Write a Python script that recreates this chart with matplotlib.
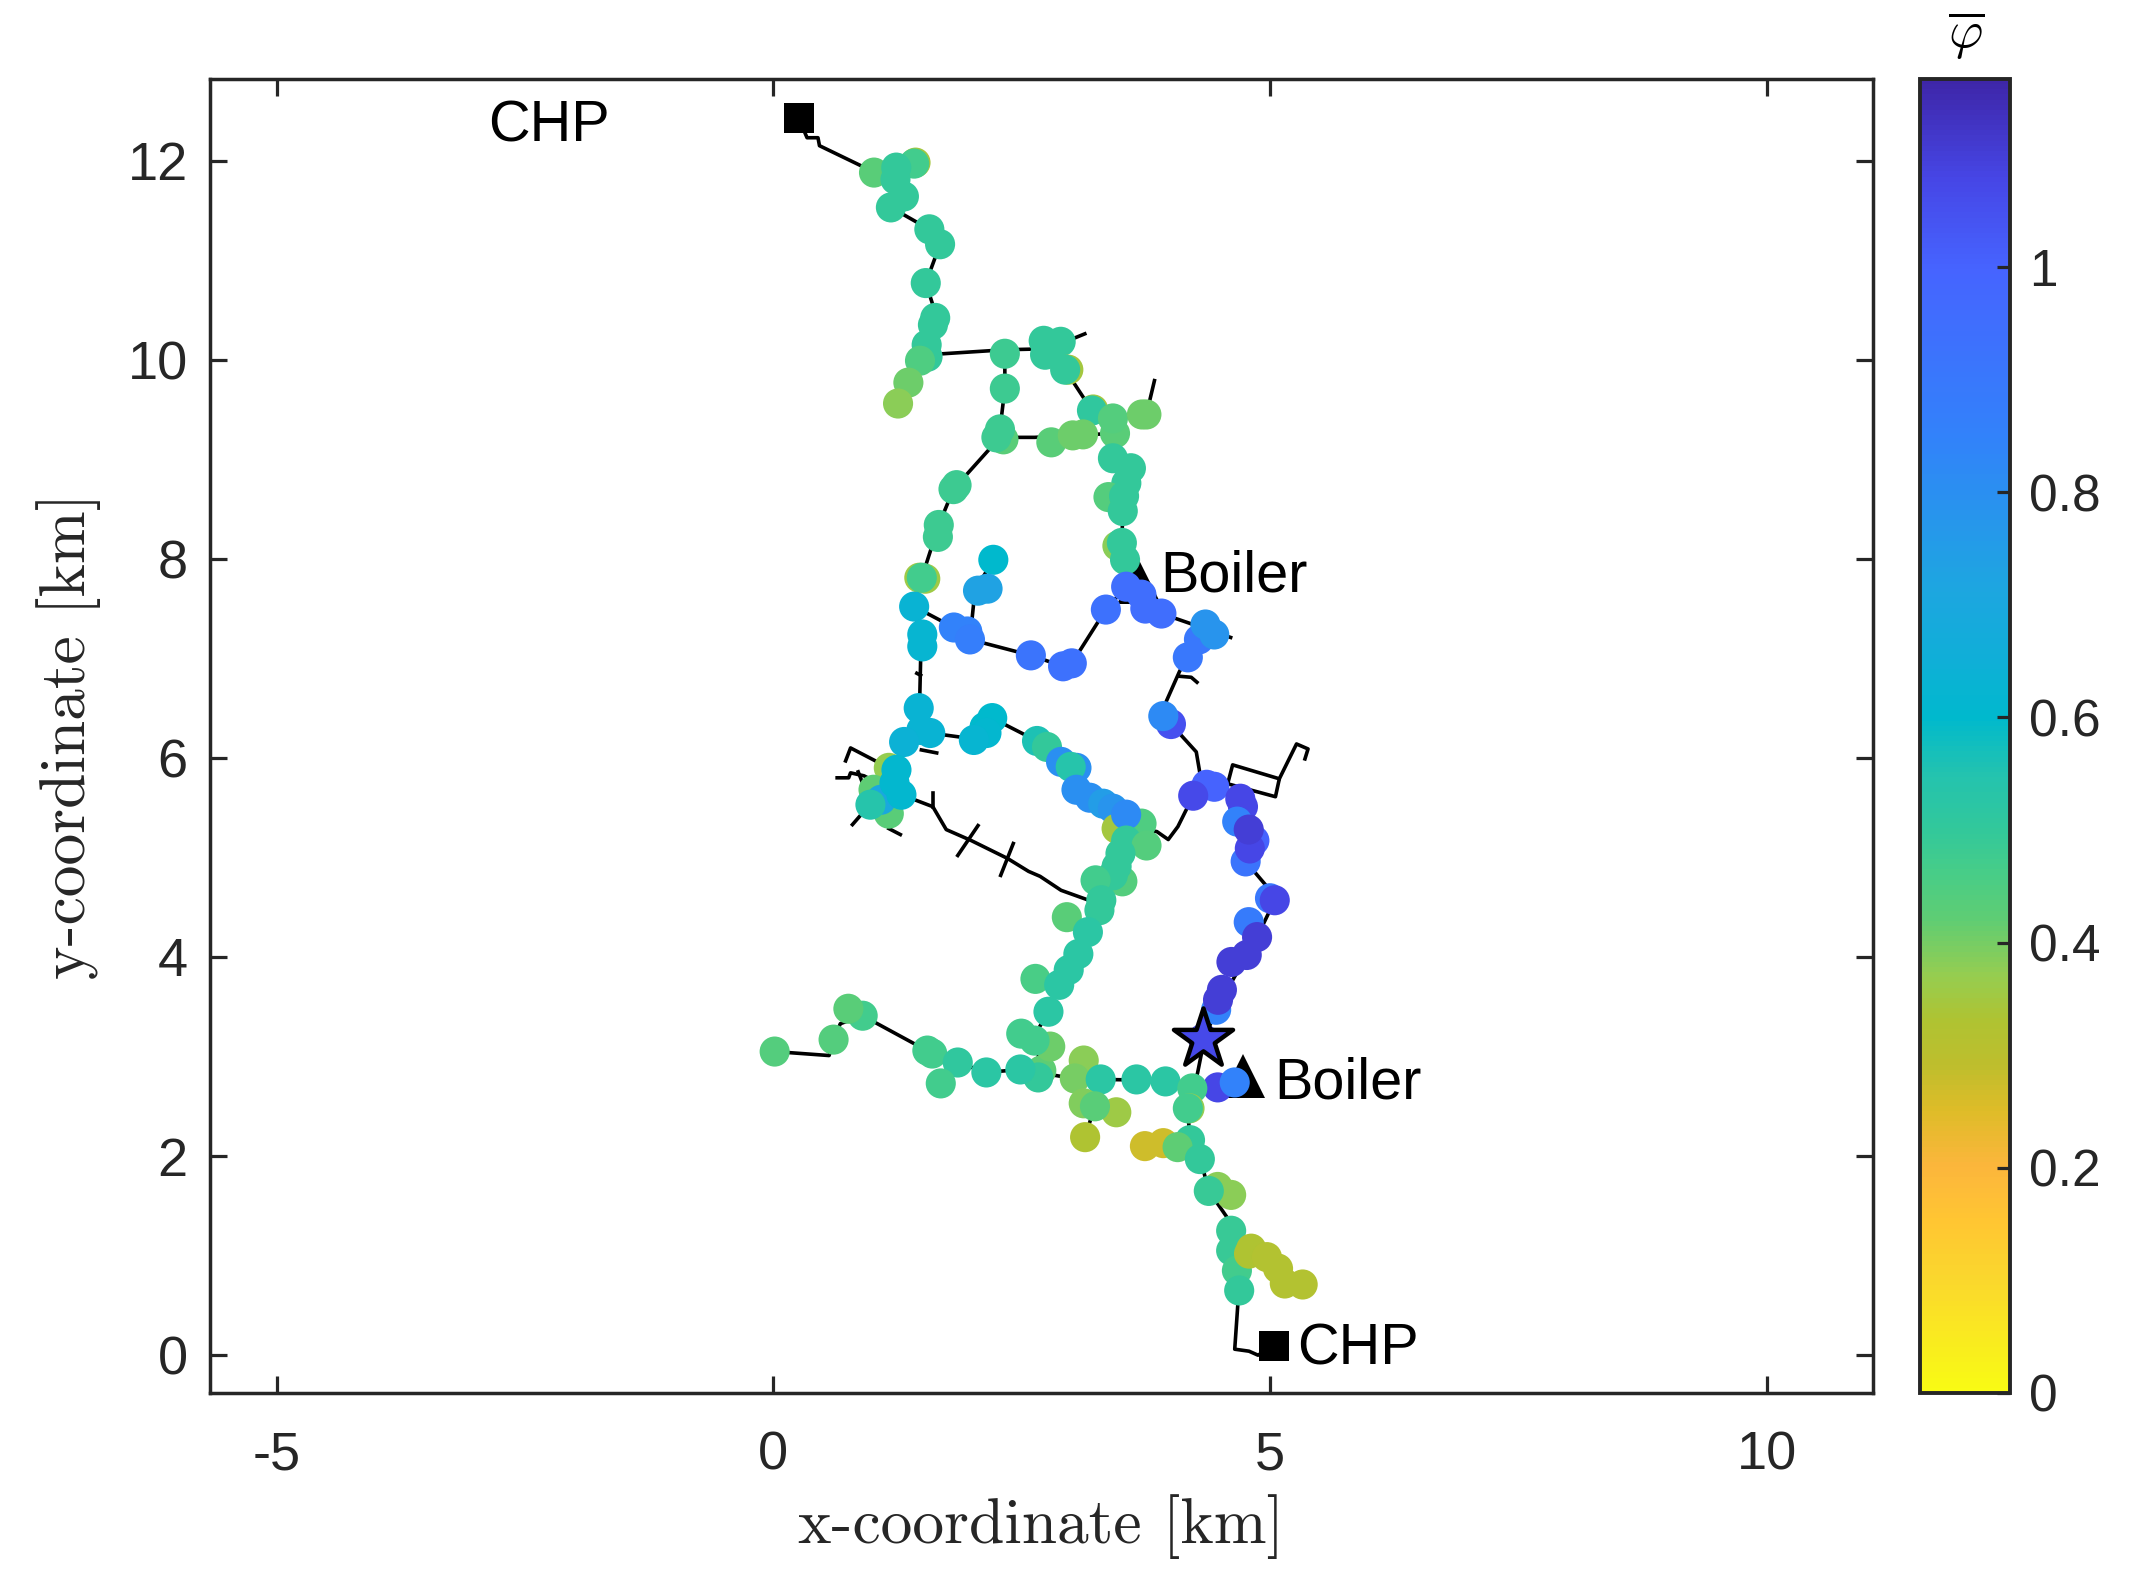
import matplotlib
matplotlib.use("Agg")
import matplotlib.pyplot as plt
from matplotlib.colors import LinearSegmentedColormap

plt.rcParams["font.family"] = ["Liberation Sans", "DejaVu Sans"]
plt.rcParams["mathtext.fontset"] = "cm"

# node positions [km] and mean phi, in draw order
node_x = [1.014, 1.432, 1.418, 1.238, 1.23, 1.315, 1.184, 1.571, 1.679, 1.535, 1.63, 1.607, 1.544, 1.553, 1.477,
          1.36, 1.256, 2.331, 2.331, 2.317, 2.282, 2.246, 2.722, 2.893, 2.736, 2.97, 2.938, 3.22, 3.208, 3.44,
          3.419, 3.756, 3.711, 2.799, 3.015, 3.118, 3.419, 3.60, 3.554, 3.374, 3.531, 3.518, 1.814, 1.845, 1.666,
          1.657, 1.53, 1.47, 1.495, 3.464, 3.509, 3.541,
          2.215, 2.157, 2.061, 1.418, 1.50, 1.50, 1.818, 1.953, 1.98, 2.593, 2.917, 3.005, 3.348, 3.552, 3.706,
          3.745, 3.907, 4.285, 4.173, 4.35, 4.439, 4.003, 3.926, 1.464, 1.58, 1.491, 1.317, 2.204, 2.127, 2.146,
          2.019, 2.655, 2.755, 2.897, 3.052, 2.994, 3.052, 3.186, 3.321, 3.418, 3.456, 3.707, 3.552, 3.552, 3.757,
          3.514, 3.495, 3.456, 3.418, 3.244, 3.302, 3.283, 2.955, 3.167, 3.071, 2.974, 2.639, 2.878, 2.77,
          1.163, 1.009, 1.163, 1.086, 0.978, 1.24, 1.22, 1.29,
          4.362, 4.439, 4.227, 4.701, 4.728, 4.67, 4.843, 4.755, 4.797, 4.786, 5.0, 5.048, 4.786, 4.87, 4.766,
          4.612, 4.458, 4.516, 4.477,
          0.014, 0.607, 0.9, 0.756, 1.551, 1.60, 1.857, 1.686, 2.145, 2.698, 2.788, 2.667, 2.496, 2.63, 2.487,
          3.125, 3.035, 3.296, 3.125, 3.453, 3.238, 3.139, 3.656, 3.948, 4.474, 4.645, 4.218, 4.19, 4.173,
          3.741, 3.926, 4.195, 4.07, 4.294, 4.474, 4.609, 4.384,
          4.609, 4.609, 4.667, 4.69, 4.811, 4.789, 4.969, 5.081, 5.149, 5.329, 4.326]
node_y = [11.88, 11.98, 11.97, 11.93, 11.81, 11.64, 11.53, 11.31, 11.16, 10.77, 10.42, 10.35, 10.15, 10.03, 9.99,
          9.77, 9.56, 9.71, 10.06, 9.20, 9.30, 9.22, 10.19, 10.18, 10.05, 9.90, 9.90, 9.50, 9.49, 9.26,
          9.41, 9.45, 9.45, 9.17, 9.24, 9.25, 9.01, 8.91, 8.76, 8.62, 8.63, 8.48, 8.70, 8.74, 8.34,
          8.22, 7.80, 7.81, 7.81, 8.13, 8.16, 7.99,
          7.99, 7.70, 7.68, 7.52, 7.24, 7.12, 7.31, 7.27, 7.19, 7.03, 6.92, 6.95, 7.49, 7.72, 7.64,
          7.50, 7.45, 7.19, 7.01, 7.34, 7.24, 6.34, 6.42, 6.50, 6.25, 6.28, 6.16, 6.40, 6.31, 6.25,
          6.18, 6.17, 6.11, 5.96, 5.90, 5.91, 5.68, 5.60, 5.54, 5.49, 5.29, 5.34, 5.43, 5.17, 5.12,
          4.76, 5.04, 4.91, 4.82, 4.77, 4.57, 4.47, 4.40, 4.25, 4.03, 3.87, 3.78, 3.72, 3.45,
          5.90, 5.68, 5.44, 5.58, 5.53, 5.88, 5.75, 5.63,
          5.73, 5.71, 5.62, 5.59, 5.51, 5.36, 5.17, 4.96, 5.09, 5.28, 4.59, 4.57, 4.35, 4.20, 4.02,
          3.95, 3.47, 3.67, 3.57,
          3.05, 3.17, 3.41, 3.48, 3.06, 3.03, 2.94, 2.73, 2.84, 2.86, 3.10, 2.79, 3.23, 3.16, 2.87,
          2.96, 2.78, 2.77, 2.53, 2.44, 2.50, 2.19, 2.77, 2.75, 2.69, 2.74, 2.68, 2.48, 2.48,
          2.10, 2.13, 2.16, 2.09, 1.97, 1.69, 1.61, 1.65,
          1.25, 1.05, 0.85, 0.65, 1.07, 1.02, 0.985, 0.87, 0.72, 0.71, 3.18]
node_phi = [0.43, 0.35, 0.47, 0.5, 0.5, 0.5, 0.5, 0.5, 0.5, 0.5, 0.5, 0.5, 0.5, 0.5, 0.45,
            0.41, 0.38, 0.48, 0.48, 0.43, 0.48, 0.48, 0.5, 0.5, 0.5, 0.35, 0.5, 0.35, 0.51, 0.43,
            0.44, 0.41, 0.41, 0.43, 0.41, 0.41, 0.5, 0.5, 0.5, 0.44, 0.5, 0.5, 0.48, 0.48, 0.48,
            0.48, 0.36, 0.36, 0.47, 0.38, 0.5, 0.5,
            0.6, 0.73, 0.73, 0.63, 0.62, 0.62, 0.85, 0.85, 0.87, 0.92, 0.93, 0.93, 0.93, 0.95, 0.95,
            0.95, 0.95, 0.9, 0.9, 0.78, 0.78, 1.05, 0.82, 0.63, 0.63, 0.63, 0.64, 0.6, 0.6, 0.61,
            0.62, 0.56, 0.5, 0.8, 0.8, 0.54, 0.8, 0.8, 0.75, 0.78, 0.35, 0.45, 0.82, 0.5, 0.44,
            0.44, 0.5, 0.5, 0.5, 0.47, 0.5, 0.5, 0.43, 0.52, 0.52, 0.52, 0.46, 0.52, 0.52,
            0.37, 0.42, 0.43, 0.7, 0.54, 0.61, 0.61, 0.61,
            1.0, 1.0, 1.07, 1.08, 1.08, 0.85, 1.0, 0.92, 1.08, 1.1, 0.9, 1.08, 0.88, 1.1, 1.1,
            1.1, 0.85, 1.1, 1.1,
            0.44, 0.44, 0.47, 0.43, 0.47, 0.47, 0.51, 0.47, 0.52, 0.42, 0.41, 0.5, 0.47, 0.47, 0.52,
            0.38, 0.4, 0.52, 0.39, 0.36, 0.43, 0.33, 0.52, 0.52, 1.08, 0.85, 0.47, 0.37, 0.47,
            0.27, 0.27, 0.5, 0.42, 0.5, 0.38, 0.38, 0.49,
            0.49, 0.49, 0.47, 0.5, 0.33, 0.33, 0.32, 0.32, 0.32, 0.32, 1.07]

# pipe network, one polyline per branch
pipes = [
    [(0.254, 12.43), (0.34, 12.23), (0.45, 12.23), (0.465, 12.15), (0.88, 11.95), (1.24, 11.74), (1.184, 11.53),
     (1.571, 11.31), (1.679, 11.16), (1.535, 10.77), (1.6, 10.57), (1.63, 10.42), (1.544, 10.15), (1.553, 10.03)],
    [(1.553, 10.05), (2.331, 10.10), (2.767, 10.11), (3.136, 10.26)],
    [(2.331, 10.06), (2.331, 9.71), (2.282, 9.30)],
    [(2.282, 9.22), (2.632, 9.22), (3.015, 9.24), (3.44, 9.26)],
    [(2.282, 9.22), (1.814, 8.70), (1.666, 8.34), (1.495, 7.81), (1.418, 7.52), (1.5, 7.12), (1.483, 6.97),
     (1.475, 6.63), (1.464, 6.50), (1.58, 6.25), (1.876, 6.21), (2.019, 6.18)],
    [(2.938, 9.90), (3.208, 9.49), (3.419, 9.41), (3.756, 9.45), (3.837, 9.79)],
    [(3.419, 9.41), (3.419, 9.01), (3.6, 8.91), (3.518, 8.48), (3.509, 8.16), (3.541, 7.99), (3.72, 7.6)],
    [(1.418, 7.52), (1.818, 7.31), (1.98, 7.19), (2.593, 7.03), (2.917, 6.92), (3.005, 6.95), (3.348, 7.49),
     (3.552, 7.72)],
    [(1.98, 7.19), (2.03, 7.68), (2.215, 7.99)],
    [(3.907, 7.45), (4.604, 7.21)],
    [(4.285, 7.19), (4.173, 7.01), (4.09, 6.87), (3.957, 6.57), (3.926, 6.42)],
    [(4.09, 6.82), (4.207, 6.81), (4.265, 6.76)],
    [(4.003, 6.34), (4.258, 6.06), (4.304, 5.79), (4.362, 5.73)],
    [(4.227, 5.62), (4.073, 5.31), (3.976, 5.18), (3.861, 5.26), (3.55, 5.3)],
    [(4.574, 5.74), (4.624, 5.93), (5.094, 5.79), (5.055, 5.61), (4.574, 5.74)],
    [(5.094, 5.79), (5.267, 6.14), (5.383, 6.09), (5.352, 5.99)],
    [(1.445, 6.85), (1.483, 6.83)],
    [(2.204, 6.40), (2.655, 6.17)],
    [(1.491, 6.08), (1.645, 6.05)],
    [(0.728, 5.97), (0.778, 6.10), (1.163, 5.90)],
    [(0.643, 5.80), (0.759, 5.80), (0.778, 5.85), (0.913, 5.82), (0.99, 5.78)],
    [(0.855, 5.86), (0.894, 5.76)],
    [(0.797, 5.33), (0.893, 5.44)],
    [(1.163, 5.29), (1.279, 5.23)],
    [(1.29, 5.63), (1.606, 5.51), (1.741, 5.28), (1.992, 5.17), (2.358, 4.99), (2.57, 4.86), (2.686, 4.81),
     (2.897, 4.67), (3.148, 4.58)],
    [(1.606, 5.65), (1.606, 5.51)],
    [(2.061, 5.32), (1.857, 5.02)],
    [(2.416, 5.14), (2.289, 4.82)],
    [(4.755, 4.96), (4.959, 4.72), (5.048, 4.57), (4.87, 4.2), (4.766, 4.02), (4.458, 3.47), (4.34, 3.18),
     (4.27, 2.83), (4.218, 2.68)],
    [(3.552, 5.17), (3.167, 4.25), (3.071, 4.03), (2.878, 3.72), (2.77, 3.45), (2.67, 3.28), (2.667, 2.79)],
    [(0.014, 3.05), (0.562, 3.01), (0.607, 3.17), (0.675, 3.33), (0.9, 3.41), (1.417, 3.13), (1.551, 3.06),
     (1.857, 2.94), (2.145, 2.84), (2.487, 2.87), (2.9, 2.80), (3.296, 2.77), (3.948, 2.76), (4.218, 2.68)],
    [(3.238, 2.5), (3.192, 2.36), (3.139, 2.19)],
    [(4.173, 2.48), (4.182, 2.33), (4.195, 2.16), (4.294, 1.97), (4.339, 1.82), (4.384, 1.65), (4.564, 1.39),
     (4.609, 1.25), (4.609, 1.05), (4.69, 0.65), (4.677, 0.52), (4.645, 0.06), (4.789, 0.04), (4.879, 0.0),
     (5.036, 0.09)],
]

chp_x = [0.254, 5.036]
chp_y = [12.43, 0.09]
boiler_x = [3.68, 4.73]
boiler_y = [7.77, 2.805]
star_x = [4.326]
star_y = [3.18]
star_phi = [1.07]

xticks = [-5, 0, 5, 10]
xtick_labels = ["-5", "0", "5", "10"]
yticks = [0, 2, 4, 6, 8, 10, 12]
cbar_ticks = [0, 0.2, 0.4, 0.6, 0.8, 1]
cbar_labels = ["0", "0.2", "0.4", "0.6", "0.8", "1"]
phi_max = 1.167

cmap_stops = [(0.0, (249, 251, 20)), (0.1, (250, 215, 45)), (0.15, (255, 198, 50)), (0.2, (252, 182, 60)),
              (0.25, (222, 188, 40)), (0.29, (190, 190, 45)), (0.33, (175, 195, 50)), (0.37, (150, 205, 80)),
              (0.42, (95, 205, 115)), (0.46, (72, 205, 135)), (0.5, (50, 200, 155)), (0.55, (35, 195, 175)),
              (0.6, (0, 185, 205)), (0.65, (15, 175, 215)), (0.72, (30, 165, 225)), (0.85, (50, 130, 250)),
              (1.0, (70, 100, 255)), (1.08, (70, 70, 230)), (1.167, (62, 38, 168))]
cmap = LinearSegmentedColormap.from_list(
    "phi", [(v / phi_max, (r / 255, g / 255, b / 255)) for v, (r, g, b) in cmap_stops], N=256)

W, H = 2139, 1589
dark = "#262626"
fig = plt.figure(figsize=(W / 100, H / 100), dpi=100)
ax = fig.add_axes([210 / W, 1 - 1393 / H, 1663 / W, 1314 / H])
cax = fig.add_axes([1920 / W, 1 - 1393 / H, 90 / W, 1314 / H])

for p in pipes:
    ax.plot([q[0] for q in p], [q[1] for q in p], color="black", lw=2.6, zorder=2, solid_joinstyle="round")

ax.plot(boiler_x, boiler_y, "^", color="black", ms=32, mew=0, zorder=2.5)
sc = ax.scatter(node_x, node_y, c=node_phi, cmap=cmap, vmin=0, vmax=phi_max, s=470, linewidths=0, zorder=3)
ax.plot(chp_x, chp_y, "s", color="black", ms=21, mew=0, zorder=4)
ax.scatter(star_x, star_y, c=star_phi, cmap=cmap, vmin=0, vmax=phi_max, marker="*", s=2000,
           edgecolors="black", linewidths=3.2, zorder=5)

label_kw = dict(fontsize=41.5, color="black", va="center", ha="left", zorder=6)
ax.text(-2.87, 12.34, "CHP", **label_kw)
ax.text(3.90, 7.82, "Boiler", **label_kw)
ax.text(5.04, 2.73, "Boiler", **label_kw)
ax.text(5.27, 0.06, "CHP", **label_kw)

ax.set_xlim(-5.67, 11.07)
ax.set_ylim(-0.38, 12.82)
ax.set_xticks(xticks, xtick_labels)
ax.set_yticks(yticks)
ax.tick_params(which="both", direction="in", top=True, right=True, length=12, width=2.3, color=dark,
               labelcolor=dark, labelsize=39, pad=16)
ax.tick_params(axis="x", pad=27)
for s in ax.spines.values():
    s.set_linewidth(2.5)
    s.set_color(dark)

ax.set_xlabel("x-coordinate [km]", family="cmr10", fontsize=45.7, color=dark, labelpad=10)
ax.set_ylabel("y-coordinate [km]", family="cmr10", fontsize=45.7, color=dark, labelpad=19)

cb = fig.colorbar(sc, cax=cax)
cb.set_ticks(cbar_ticks, labels=cbar_labels)
cb.ax.tick_params(direction="in", length=9.5, width=2.3, color=dark, labelcolor=dark, labelsize=37, pad=14)
cb.outline.set_linewidth(2.8)
cb.outline.set_edgecolor(dark)
fig.text(1966 / W, 1 - 36 / H, r"$\overline{\varphi}$", fontsize=38, color="black", ha="center", va="center")

fig.savefig("out.png", dpi=100)
